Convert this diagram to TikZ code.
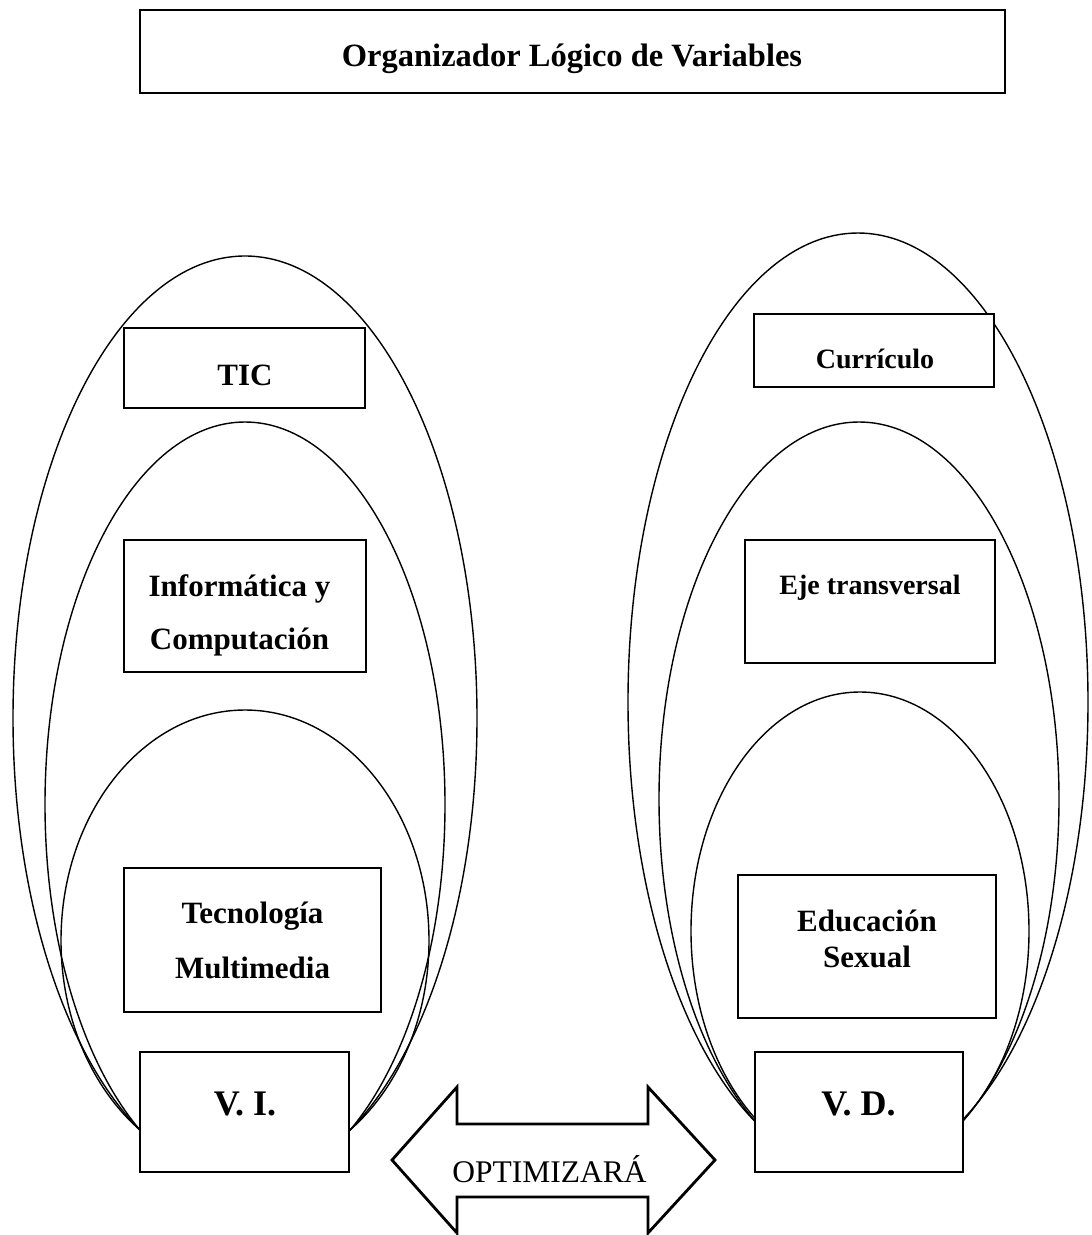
\documentclass[tikz,border=0pt]{standalone}
\usepackage{fontspec}
\setmainfont{Liberation Serif}
\begin{document}
\begin{tikzpicture}[x=1pt,y=-1pt,
  box/.style={draw, fill=white, line width=1.6pt, inner sep=0pt},
  ell/.style={line width=1.4pt},
  lbl/.style={font=\fontsize{31}{37}\selectfont\bfseries, align=center, inner sep=0pt, anchor=base},
  lblr/.style={font=\fontsize{28}{34}\selectfont\bfseries, align=center, inner sep=0pt, anchor=base},
  big/.style={font=\fontsize{36}{40}\selectfont\bfseries, inner sep=0pt, anchor=base},
  dbl/.style={draw, line width=2.8pt, line join=miter, fill=white}
]
\useasboundingbox (0,0) rectangle (1092,1235);

\begin{scope}
\clip (0,0) rectangle (1092,1166);
% ellipses (left)
\draw[ell] (245,718) ellipse [x radius=232pt, y radius=462pt];
\draw[ell] (245,804.5) ellipse [x radius=200pt, y radius=382.5pt];
\draw[ell] (245,940.6) ellipse [x radius=184pt, y radius=230.6pt];
% ellipses (right)
\draw[ell] (858,702) ellipse [x radius=230pt, y radius=469pt];
\draw[ell] (859,799) ellipse [x radius=200pt, y radius=377pt];
\draw[ell] (860,931) ellipse [x radius=169pt, y radius=239pt];
\end{scope}

% title
\node[box, minimum width=865pt, minimum height=83pt] (title) at (572.5,51.5) {};
\node[lbl, font=\fontsize{32.5}{38}\selectfont\bfseries] (titlet) at (572,66) {Organizador Lógico de Variables};

% left boxes
\node[box, minimum width=241pt, minimum height=80pt] (tic) at (244.5,368) {};
\node[lbl] (tict) at (245,385) {TIC};
\node[box, minimum width=242pt, minimum height=132pt] (inf) at (245,606) {};
\node[lbl, font=\fontsize{31}{53}\selectfont\bfseries] (inft) at (239.5,649) {Informática y\\Computación};
\node[box, minimum width=257pt, minimum height=144pt] (tec) at (252.5,940) {};
\node[lbl, font=\fontsize{31}{55}\selectfont\bfseries] (tect) at (252.5,978) {Tecnología\\Multimedia};
\node[box, minimum width=209pt, minimum height=120pt] (vi) at (244.5,1112) {};
\node[big] (vit) at (245,1115) {V. I.};

% right boxes
\node[box, minimum width=240pt, minimum height=73pt] (cur) at (874,350.5) {};
\node[lblr] (curt) at (875,368) {Currículo};
\node[box, minimum width=250pt, minimum height=123pt] (eje) at (870,601.5) {};
\node[lblr] (ejet) at (870,594) {Eje transversal};
\node[box, minimum width=258pt, minimum height=143pt] (edu) at (867,946.5) {};
\node[lbl, font=\fontsize{31}{36}\selectfont\bfseries] (edut) at (867,967) {Educación\\Sexual};
\node[box, minimum width=208pt, minimum height=120pt] (vd) at (859,1112) {};
\node[big] (vdt) at (858.5,1115) {V. D.};

% double arrow
\draw[dbl] (392,1160) -- (457,1087) -- (457,1124) -- (648,1124) -- (648,1087)
  -- (715,1160) -- (648,1233) -- (648,1197) -- (457,1197) -- (457,1233) -- cycle;
\node[font=\fontsize{31.5}{36}\selectfont, inner sep=0pt, anchor=base] (opt) at (549.5,1182) {OPTIMIZARÁ};
\end{tikzpicture}
\end{document}
